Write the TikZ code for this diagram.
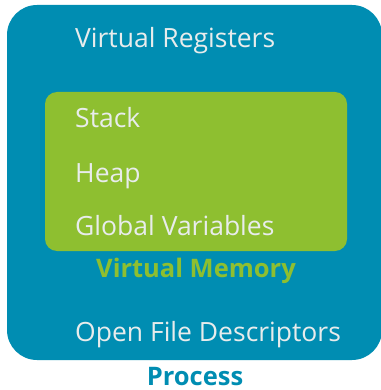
\documentclass[tikz,border=0pt]{standalone}
\usepackage{fontspec}
\setmainfont{Open Sans}
\usepackage{tikz}
\usetikzlibrary{positioning}
\definecolor{bleuProc}{RGB}{0,141,178}
\definecolor{vertMem}{RGB}{142,191,48}
\definecolor{texteClair}{RGB}{232,236,236}

\begin{document}
\begin{tikzpicture}[x=1pt, y=-1pt,
  boxproc/.style={fill=bleuProc, draw=none, rounded corners=30pt, minimum width=375pt, minimum height=355pt},
  boxmem/.style={fill=vertMem, draw=none, rounded corners=12pt, minimum width=302pt, minimum height=159pt},
  item/.style={anchor=base west, text=texteClair, font=\fontsize{26.5}{30}\selectfont, inner sep=0pt},
  titre/.style={anchor=base, font=\fontsize{25.5}{30}\selectfont\bfseries, inner sep=0pt}]

\useasboundingbox (0,0) rectangle (380,390);

\node[boxproc] (process) at (194.5,182.5) {};
\node[boxmem] (vmem) at (196,171.5) {};

\node[item] (regs) at (75,48) {Virtual Registers};
\node[item] (stack) at (75,128) {Stack};
\node[item] (heap) at (75,182) {Heap};
\node[item] (globals) at (75,235) {Global Variables};
\node[titre, text=vertMem] (vmemlbl) at (196,277) {Virtual Memory};
\node[item] (files) at (75,341) {Open File Descriptors};
\node[titre, text=bleuProc] (proclbl) at (195,385) {Process};

\end{tikzpicture}
\end{document}
